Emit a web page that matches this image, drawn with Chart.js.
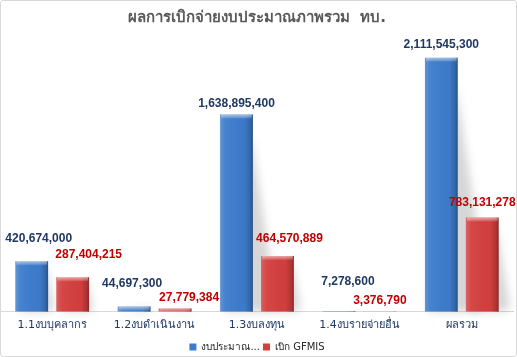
<!DOCTYPE html>
<html>
<head>
<meta charset="utf-8">
<script src="https://cdn.jsdelivr.net/npm/chart.js@4.4.1/dist/chart.umd.min.js"></script>
<style>
  html, body { margin: 0; padding: 0; background: #fff; }
  #wrap { width: 517px; height: 357px; box-sizing: border-box; border: 1px solid #d9d9d9; border-radius: 3px; position: relative; }
  canvas { display: block; }
</style>
</head>
<body>
<div id="wrap"><canvas id="chart"></canvas></div>
<script>
const categories = ["1.1งบบุคลากร", "1.2งบดำเนินงาน", "1.3งบลงทุน", "1.4งบรายจ่ายอื่น", "ผลรวม"];
const seriesNames = ["งบประมาณ...", "เบิก GFMIS"];
const budget = [420674000, 44697300, 1638895400, 7278600, 2111545300];
const gfmis = [287404215, 27779384, 464570889, 3376790, 783131278];

const thaiFont = "Tahoma, 'DejaVu Sans', 'Noto Sans', sans-serif";

// label nudges (Excel moves a few labels to avoid overlap)
const labelNudge = [
  [[7, -22], [-2, -23], [0, -11], [9, -29], [0, -13]],
  [[16, -23], [14, -11], [12, -17], [0, -11], [0, -15]]
];
const labelColors = ["#1f3864", "#c00000"];

const fmt = v => v.toLocaleString("en-US");

// soft floor shadows behind the bars
const shadowPlugin = {
  id: "shadows",
  beforeDatasetsDraw(chart) {
    const ctx = chart.ctx;
    ctx.save();
    ctx.filter = "blur(4px)";
    ctx.fillStyle = "rgba(0,0,0,0.16)";
    chart.data.datasets.forEach((ds, di) => {
      chart.getDatasetMeta(di).data.forEach(bar => {
        const h = bar.base - bar.y;
        if (h < 3) return;
        const r = bar.x + bar.width / 2;
        const l = bar.x - bar.width / 2;
        ctx.beginPath();
        ctx.moveTo(r - 2, bar.y + h * 0.1);
        ctx.lineTo(r + h * 0.12, bar.base - h * 0.05);
        ctx.lineTo(r + h * 0.1 - bar.width * 0.2, bar.base);
        ctx.lineTo(l + 4, bar.base);
        ctx.closePath();
        ctx.fill();
      });
    });
    ctx.restore();
  }
};

// bevel look and value labels
const bevelPlugin = {
  id: "bevel",
  afterDatasetsDraw(chart) {
    const ctx = chart.ctx;
    ctx.save();
    chart.data.datasets.forEach((ds, di) => {
      chart.getDatasetMeta(di).data.forEach((bar, i) => {
        const l = bar.x - bar.width / 2;
        const w = bar.width;
        const h = bar.base - bar.y;
        const g = ctx.createLinearGradient(l, 0, l + w, 0);
        g.addColorStop(0, "rgba(255,255,255,0.18)");
        g.addColorStop(0.15, "rgba(255,255,255,0.05)");
        g.addColorStop(0.75, "rgba(0,0,0,0.02)");
        g.addColorStop(0.92, "rgba(0,0,0,0.18)");
        g.addColorStop(1, "rgba(0,0,0,0.35)");
        ctx.fillStyle = g;
        ctx.fillRect(l, bar.y, w, h);
        const capH = Math.min(4, h);
        const cg = ctx.createLinearGradient(0, bar.y, 0, bar.y + capH);
        cg.addColorStop(0, "rgba(255,255,255,0.55)");
        cg.addColorStop(1, "rgba(255,255,255,0.1)");
        ctx.fillStyle = cg;
        ctx.fillRect(l + 1, bar.y, w - 2, capH);

        const n = labelNudge[di][i];
        ctx.font = "bold 12px 'Liberation Sans', Arial, sans-serif";
        ctx.fillStyle = labelColors[di];
        ctx.textAlign = "center";
        ctx.textBaseline = "middle";
        ctx.fillText(fmt(ds.data[i]), bar.x + n[0], bar.y + n[1]);
      });
    });
    ctx.restore();
  }
};

new Chart(document.getElementById("chart"), {
  type: "bar",
  data: {
    labels: categories,
    datasets: [
      { label: seriesNames[0], data: budget, backgroundColor: "#3d7ccc", categoryPercentage: 0.8, barPercentage: 0.8 },
      { label: seriesNames[1], data: gfmis, backgroundColor: "#d43f3f", categoryPercentage: 0.8, barPercentage: 0.8 }
    ]
  },
  options: {
    responsive: true,
    maintainAspectRatio: false,
    animation: false,
    layout: { padding: { left: 0, right: 3, top: 0, bottom: -6 } },
    plugins: {
      title: {
        display: true,
        text: "ผลการเบิกจ่ายงบประมาณภาพรวม  ทบ.",
        color: "#595959",
        font: { family: thaiFont, size: 15, weight: "bold" },
        padding: { top: 8, bottom: 14 }
      },
      legend: {
        position: "bottom",
        labels: {
          boxWidth: 7,
          boxHeight: 7,
          padding: 3,
          color: "#262626",
          font: { family: thaiFont, size: 10 }
        }
      },
      tooltip: { enabled: false }
    },
    scales: {
      x: {
        grid: { display: false, drawTicks: false },
        border: { color: "#d9d9d9" },
        ticks: { color: "#1f3864", padding: 7, font: { family: thaiFont, size: 11 } }
      },
      y: { display: false, min: 0, max: 2250000000 }
    }
  },
  plugins: [shadowPlugin, bevelPlugin]
});
</script>
</body>
</html>
